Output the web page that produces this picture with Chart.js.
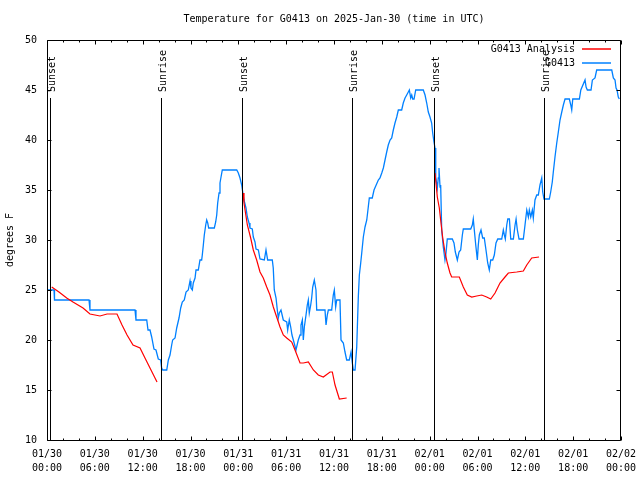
<!DOCTYPE html>
<html>
<head>
<meta charset="utf-8">
<script src="https://cdn.jsdelivr.net/npm/chart.js@4.4.1/dist/chart.umd.min.js"></script>
<style>
html,body{margin:0;padding:0;background:#fff;}
#wrap{width:640px;height:480px;}
</style>
</head>
<body>
<div id="wrap"><canvas id="c" width="640" height="480"></canvas></div>
<script>
// Hours since 2025-01-30 00:00 UTC
const chartTitle = "Temperature for G0413 on 2025-Jan-30 (time in UTC)";
const yAxisTitle = "degrees F";
const dateLabels = ["01/30", "01/31", "02/01", "02/02"];
const seriesNames = ["G0413 Analysis", "G0413"];

// Analysis series (null = gap)
const analysisHours = [0.59,1.5,2.47,3.26,4.52,5.39,6.65,7.53,8.78,9.41,10.04,10.79,11.67,12.29,13.8,
  19.0,
  24.59,24.71,25.13,25.55,25.88,26.3,26.72,27.13,27.56,27.97,28.39,28.81,29.23,29.64,30.07,30.7,31.11,31.74,32.15,32.78,33.41,34.03,34.66,35.5,35.79,36.13,36.67,37.59,
  43.0,
  48.67,48.96,49.21,49.38,49.64,49.92,50.21,50.55,50.76,51.72,52.22,52.72,53.28,53.9,54.53,55.15,55.66,56.2,56.82,57.45,57.87,58.92,59.75,60.18,60.8,61.72];
const analysisTemps = [25.3,24.8,24.2,23.8,23.2,22.6,22.4,22.6,22.6,21.5,20.5,19.5,19.2,18.2,15.8,
  null,
  34.7,33.7,31.5,30.2,29,28,26.8,26.2,25.3,24.5,23.3,22.3,21.3,20.5,20.2,19.8,19,17.7,17.7,17.8,17,16.5,16.3,16.8,16.8,15.5,14.1,14.2,
  null,
  36.7,34.3,33.2,32,30.2,28.8,27.7,26.7,26.3,26.3,25.3,24.5,24.3,24.4,24.5,24.3,24.1,24.7,25.7,26.3,26.7,26.8,26.9,27.5,28.2,28.3];

// Observed series
const obsHours = [0,0.88,0.94,5.27,5.39,11.04,11.16,12.51,12.67,12.92,13.13,13.42,13.67,13.96,14.26,14.38,14.52,15.02,15.22,15.43,15.64,15.76,16.06,16.27,16.56,16.77,16.97,17.22,17.44,17.72,17.94,18.06,18.23,18.35,18.57,18.69,18.98,19.19,19.4,19.48,19.61,19.73,19.91,20.03,20.16,20.28,20.99,21.16,21.29,21.41,21.58,21.7,21.83,21.99,23.8,24.0,24.21,24.42,24.55,24.71,24.96,25.13,25.34,25.46,25.75,25.88,26.09,26.22,26.51,26.72,27.26,27.47,27.68,28.26,28.38,28.51,28.73,28.89,29.01,29.14,29.35,29.64,30.07,30.19,30.39,30.57,30.73,30.9,31.23,31.52,31.74,31.86,32.03,32.15,32.28,32.49,32.65,32.78,32.9,33.08,33.2,33.33,33.53,33.74,33.83,34.87,35.0,35.16,35.29,35.71,35.91,36.04,36.21,36.34,36.75,36.88,37.17,37.38,37.59,37.92,38.14,38.3,38.43,38.64,38.85,39.05,39.18,39.35,39.48,39.68,39.89,40.11,40.3,40.43,40.8,41.02,41.56,41.77,41.99,42.19,42.4,42.61,42.81,43.03,43.24,43.44,43.65,43.87,44.07,44.49,44.69,44.91,45.12,45.32,45.45,45.62,45.75,45.87,46.04,46.25,47.2,47.42,47.63,47.83,48.04,48.25,48.38,48.54,48.67,48.76,48.96,49.08,49.17,49.3,49.38,49.51,49.71,49.92,50.05,50.21,50.84,51.05,51.22,51.47,51.68,51.89,52.1,52.22,53.15,53.35,53.47,53.6,53.78,53.98,54.1,54.23,54.44,54.65,54.85,55.03,55.15,55.28,55.48,55.66,55.91,56.11,56.32,56.54,57.04,57.24,57.37,57.49,57.67,57.8,58.0,58.17,58.5,58.71,58.84,59.0,59.21,59.75,59.96,60.18,60.38,60.5,60.68,60.88,61.0,61.21,61.43,61.63,61.84,62.06,62.18,62.34,63.01,63.18,63.38,63.51,63.72,63.94,64.14,64.35,64.57,64.77,64.98,65.52,65.7,65.82,65.95,66.78,66.96,67.49,67.62,67.78,68.24,68.41,68.74,68.95,70.84,71.04,71.25,71.38,71.5,71.66,71.79];
const obsTemps = [25,25,24,24,23,23,22,22,21,21,20.3,19.1,19,18.1,18,17.2,17,17,18,18.5,19.5,20,20.2,21.2,22.2,23.2,23.8,24,24.8,25,25.9,25.2,25,25.7,26.2,27,27,28,28,28.5,29.5,30.5,31.5,32,31.7,31.2,31.2,31.8,32.5,33.7,34.7,35.7,36.3,37,37,36.7,36.2,35.5,34.8,34,33.2,32.3,31.7,31.2,31.1,30.3,29.8,29.1,29,28.1,28,29,28,28,27.2,25,24.2,23,22.2,22.7,23,22,21.8,21,22,21.3,20.5,20,19,20,20.5,21.5,22,20,21.3,22.5,23.5,24,22.7,23.5,24.2,25.3,26,25,23,23,21.5,22.5,23,23,24.5,25,23.3,24,24,20,19.7,18.8,18,18,18.8,17.7,17,17,19.3,24.3,26.5,27.7,28.7,30.3,31.3,32,33.3,34.2,34.2,35,36,36.2,36.7,37.2,38,38.8,39.5,40,40.2,41,41.7,42.3,43,43,43.7,44.2,44.5,44.8,45,44.2,44.5,44.1,44.1,45,45,44.5,43.7,42.8,42.3,41.7,40.7,39.8,39.2,36.3,35.2,36.2,37.2,35.3,35.5,31,29.3,28,28.7,30.1,30.1,29.7,28.8,28,28.8,29,30.5,31.1,31.1,31.5,32.1,31,29.5,28,29.5,30.5,31,30.2,30.2,29.2,28.5,27.7,27,28,28,28.5,29.7,30.1,30.1,31,30.5,30.1,31.5,32.1,32.1,30.1,30.1,31.5,32.1,31,30.1,30.1,31.5,33,32.3,33,32.3,33,32.2,34,34.5,34.5,35.5,36.2,34.8,34.1,34.1,34.8,35.8,36.8,38.3,39.7,40.8,42,42.8,43.5,44.1,44.1,43.5,43,44.1,44.1,45,46,45.3,45,45,46,46.2,47,47,46.2,46,45.2,45,44.3,44.1];

// Sun events (hours)
const sunHours = [0.38, 14.35, 24.5, 38.3, 48.6, 62.35];
const sunLabels = ["Sunset", "Sunrise", "Sunset", "Sunrise", "Sunset", "Sunrise"];

const seriesColors = ['rgb(255,0,0)', 'rgb(0,128,255)'];
const FONT = "'DejaVu Sans Mono', 'Liberation Mono', monospace";

function pts(xs, ys) { return xs.map((x, i) => ({ x: x, y: ys[i] })); }

const gnuPlugin = {
  id: 'gnu',
  afterDraw(chart) {
    const ctx = chart.ctx;
    const a = chart.chartArea;
    const xs = chart.scales.x, ys = chart.scales.y;
    ctx.save();
    ctx.strokeStyle = '#000';
    ctx.lineWidth = 1;
    ctx.fillStyle = '#000';
    ctx.font = '10px ' + FONT;
    // sun lines
    sunHours.forEach((h, i) => {
      const px = Math.round(xs.getPixelForValue(h)) + 0.5;
      ctx.beginPath();
      ctx.moveTo(px, 98);
      ctx.lineTo(px, a.bottom);
      ctx.stroke();
      ctx.save();
      ctx.translate(px + 4, 92);
      ctx.rotate(-Math.PI / 2);
      ctx.textAlign = 'left';
      ctx.textBaseline = 'alphabetic';
      ctx.fillText(sunLabels[i], 0, 0);
      ctx.restore();
    });
    // frame
    const L = a.left + 0.5, R = a.right - 0.5, T = a.top + 0.5, B = a.bottom + 0.5;
    ctx.beginPath();
    ctx.rect(L, T, R - L, B - T);
    ctx.stroke();
    // ticks
    xs.ticks.forEach(t => {
      const px = Math.round(xs.getPixelForValue(t.value)) + 0.5;
      const len = (t.value % 6 === 0) ? 4 : 2;
      ctx.beginPath();
      ctx.moveTo(px, B); ctx.lineTo(px, B - len);
      ctx.moveTo(px, T); ctx.lineTo(px, T + len);
      ctx.stroke();
    });
    ys.ticks.forEach(t => {
      const py = Math.round(ys.getPixelForValue(t.value)) + 0.5;
      ctx.beginPath();
      ctx.moveTo(L, py); ctx.lineTo(L + 4, py);
      ctx.moveTo(R, py); ctx.lineTo(R - 4, py);
      ctx.stroke();
    });
    // title
    ctx.textAlign = 'center';
    ctx.textBaseline = 'middle';
    ctx.fillText(chartTitle, (a.left + a.right) / 2, 19);
    // y title
    ctx.save();
    ctx.translate(10, (a.top + a.bottom) / 2);
    ctx.rotate(-Math.PI / 2);
    ctx.fillText(yAxisTitle, 0, 0);
    ctx.restore();
    // legend
    seriesNames.forEach((n, i) => {
      const y = 49 + i * 14;
      ctx.textAlign = 'right';
      ctx.fillStyle = '#000';
      ctx.fillText(n, 575, y);
      ctx.save();
      ctx.strokeStyle = seriesColors[i];
      ctx.lineWidth = 1.5;
      ctx.beginPath();
      ctx.moveTo(582, y);
      ctx.lineTo(611, y);
      ctx.stroke();
      ctx.restore();
    });
    ctx.restore();
  }
};

new Chart(document.getElementById('c'), {
  type: 'line',
  data: {
    datasets: [
      { label: seriesNames[0], data: pts(analysisHours, analysisTemps), borderColor: seriesColors[0], borderWidth: 1.2, pointRadius: 0, spanGaps: false, tension: 0, fill: false },
      { label: seriesNames[1], data: pts(obsHours, obsTemps), borderColor: seriesColors[1], borderWidth: 1.3, pointRadius: 0, tension: 0, fill: false }
    ]
  },
  options: {
    responsive: false,
    animation: false,
    devicePixelRatio: 1,
    layout: { padding: { top: 40, right: 19, left: 0, bottom: 0 } },
    plugins: { legend: { display: false }, title: { display: false }, tooltip: { enabled: false } },
    scales: {
      x: {
        type: 'linear', min: 0, max: 72,
        grid: { display: false, drawTicks: false }, border: { display: false },
        afterFit(s) { s.height = 40; s.paddingLeft = 0; s.paddingRight = 0; },
        ticks: {
          stepSize: 2, autoSkip: false, maxRotation: 0, minRotation: 0, padding: 7,
          color: '#000', font: { family: FONT, size: 10, lineHeight: 1.4 },
          callback(v) {
            if (v % 6 !== 0) return '';
            const d = Math.floor(v / 24);
            const h = v % 24;
            return [dateLabels[d], (h < 10 ? '0' : '') + h + ':00'];
          }
        }
      },
      y: {
        min: 10, max: 50,
        grid: { display: false, drawTicks: false }, border: { display: false },
        afterFit(s) { s.width = 47; s.paddingTop = 0; s.paddingBottom = 0; },
        ticks: { stepSize: 5, padding: 10, color: '#000', font: { family: FONT, size: 10 } }
      }
    }
  },
  plugins: [gnuPlugin]
});
</script>
</body>
</html>
